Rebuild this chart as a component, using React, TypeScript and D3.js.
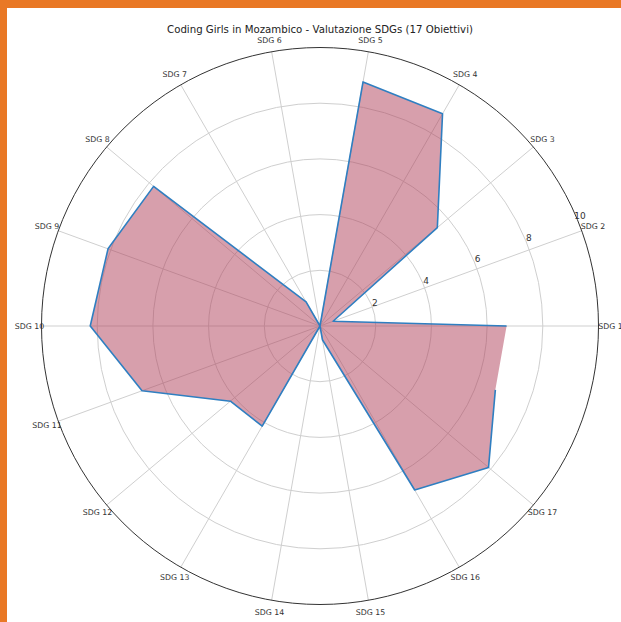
import React from 'react';
import * as d3 from 'd3';

const categories = ['SDG 1', 'SDG 2', 'SDG 3', 'SDG 4', 'SDG 5', 'SDG 6', 'SDG 7', 'SDG 8', 'SDG 9',
  'SDG 10', 'SDG 11', 'SDG 12', 'SDG 13', 'SDG 14', 'SDG 15', 'SDG 16', 'SDG 17'];
const scores = [6.7, 0.5, 5.5, 8.8, 8.9, 0, 1.0, 7.8, 8.1, 8.25, 6.8, 4.2, 4.15, 0, 0.5, 6.8, 7.9];
const radialTicks = [2, 4, 6, 8, 10];
const title = 'Coding Girls in Mozambico - Valutazione SDGs (17 Obiettivi)';

const App = () => {
  const width = 621;
  const height = 622;
  const cx = 320;
  const cy = 326;
  const outer = 278.5;

  // the plotted series closes on itself: 18 points, 20 degrees apart
  const closed = [...scores, scores[0]];
  const step = (2 * Math.PI) / closed.length;
  const theta = (i: number) => i * step;

  const r = d3.scaleLinear().domain([0, 10]).range([0, outer]);

  // matplotlib theta (east, ccw) -> d3 radial angle (north, cw)
  const toD3 = (t: number) => Math.PI / 2 - t;

  const line = d3.lineRadial<number>()
    .angle((_, i) => toD3(theta(i)))
    .radius((d) => r(d));

  const area = d3.lineRadial<number>()
    .angle((_, i) => toD3(theta(i)))
    .radius((d) => r(d))
    .curve(d3.curveLinearClosed);

  const font = 'DejaVu Sans, sans-serif';
  const labelR = outer + 12;
  const tickAngle = (23 * Math.PI) / 180;

  return (
    <svg width={width} height={height} style={{ position: 'absolute', left: 0, top: 0 }}>
      <rect x={0} y={0} width={width} height={height} fill="#fff" />
      <rect x={0} y={0} width={width} height={8} fill="#E97825" />
      <rect x={0} y={0} width={7} height={height} fill="#E97825" />

      <text x={cx} y={33} textAnchor="middle" fontFamily={font} fontSize={10.2} fill="#222">
        {title}
      </text>

      <g transform={`translate(${cx},${cy})`}>
        {radialTicks.slice(0, -1).map((t) => (
          <circle key={t} r={r(t)} fill="none" stroke="#cfcfcf" strokeWidth={1} />
        ))}
        {categories.map((c, i) => (
          <line key={c} x1={0} y1={0}
            x2={outer * Math.cos(theta(i))} y2={-outer * Math.sin(theta(i))}
            stroke="#cfcfcf" strokeWidth={1} />
        ))}

        <path d={area(closed) || ''} fill="#b0405a" fillOpacity={0.5} stroke="none" />
        <path d={line(closed) || ''} fill="none" stroke="#2f7fc1" strokeWidth={1.6} strokeLinejoin="round" />

        <circle r={outer} fill="none" stroke="#333" strokeWidth={1} />

        {radialTicks.map((t) => (
          <text key={t}
            x={(r(t) + 4) * Math.cos(tickAngle)} y={-(r(t) + 4) * Math.sin(tickAngle)}
            textAnchor="middle" dy="0.35em" fontFamily={font} fontSize={9} fill="#333">
            {t}
          </text>
        ))}

        {categories.map((c, i) => (
          <text key={c}
            x={labelR * Math.cos(theta(i))} y={-labelR * Math.sin(theta(i))}
            textAnchor="middle" dy="0.35em" fontFamily={font} fontSize={7.8} fill="#333">
            {c}
          </text>
        ))}
      </g>
    </svg>
  );
};

export default App;
